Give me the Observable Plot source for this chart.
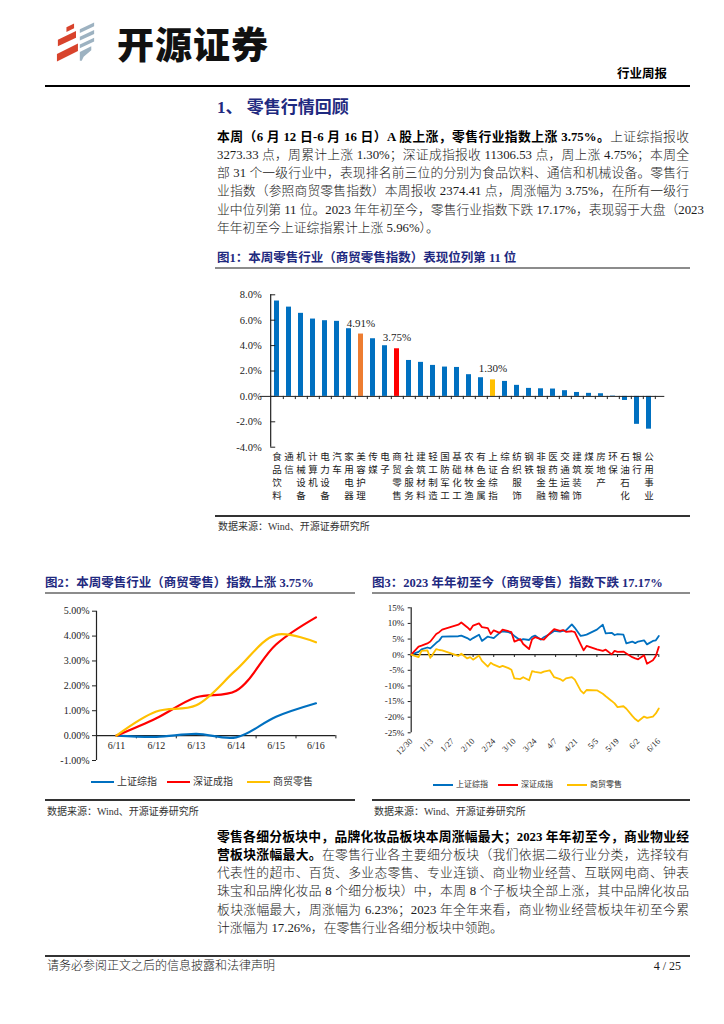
<!DOCTYPE html>
<html><head><meta charset="utf-8">
<script src="https://cdn.jsdelivr.net/npm/d3@7"></script>
<script src="https://cdn.jsdelivr.net/npm/@observablehq/plot@0.6"></script>
<style>
html,body{margin:0;padding:0;background:#fff}
body{width:724px;height:1024px;position:relative;overflow:hidden;font-family:"Liberation Serif","Noto Sans CJK SC",serif;color:#1a1a1a}
.a{position:absolute;white-space:nowrap}
.para{position:absolute;left:217px;width:472px;font-size:12.8px;font-weight:300}
.para div{text-align:justify;text-align-last:justify;white-space:nowrap}
.para div.last{text-align:left;text-align-last:left}
.para b{font-weight:700;color:#000}
.navy{color:#1f2a80;font-weight:700}
.figt{position:absolute;font-size:12.5px;line-height:16px;font-weight:700;color:#1f2a80;white-space:nowrap}
.gl{position:absolute;height:2px;background:#8c8c8c}
.bl{position:absolute;height:1.5px;background:#333}
.src{position:absolute;font-size:10px;line-height:12px;color:#333;white-space:nowrap}
.leg{position:absolute;display:flex;align-items:center;white-space:nowrap;color:#333}
.leg i{display:inline-block;height:2.5px;margin-right:3px}
svg{overflow:visible}
</style>
</head><body>

<!-- header -->
<svg class="a" style="left:55px;top:21px" width="42" height="43" viewBox="0 0 44 44">
  <g fill="#d8432c">
    <polygon points="12,6 20,2 20,7 12,11"/>
    <polygon points="3,19 22,10 22,17 3,26"/>
    <polygon points="2,34 24,23 24,31 2,42"/>
  </g>
  <g fill="#9db2c1">
    <polygon points="26,8 41,1 41,5 26,12"/>
    <polygon points="26,16 41,9 41,13 26,20"/>
    <polygon points="26,24 41,17 41,21 26,28"/>
    <polygon points="26,32 38,26 38,30 30,37 28,41 26,41"/>
  </g>
</svg>
<div class="a" style="left:117px;top:20px;font-family:'Noto Sans CJK SC';font-weight:900;font-size:37px;line-height:46px;color:#111;letter-spacing:1px">开源证券</div>
<div class="a" style="left:617px;top:65px;font-family:'Noto Sans CJK SC';font-weight:700;font-size:12.5px;line-height:16px;color:#000">行业周报</div>
<div class="a" style="left:45px;top:85px;width:645px;height:1.5px;background:#000"></div>

<div class="a navy" style="left:217px;top:98px;font-size:17px;line-height:20px;font-family:'Liberation Serif','Noto Sans CJK SC'">1、 零售行情回顾</div>

<div class="para" style="top:127.6px;line-height:18.25px">
<div><b>本周（6 月 12 日-6 月 16 日）A 股上涨，零售行业指数上涨 3.75%。</b>上证综指报收</div>
<div>3273.33 点，周累计上涨 1.30%；深证成指报收 11306.53 点，周上涨 4.75%；本周全</div>
<div>部 31 个一级行业中，表现排名前三位的分别为食品饮料、通信和机械设备。零售行</div>
<div>业指数（参照商贸零售指数）本周报收 2374.41 点，周涨幅为 3.75%，在所有一级行</div>
<div>业中位列第 11 位。2023 年年初至今，零售行业指数下跌 17.17%，表现弱于大盘（2023</div>
<div class="last">年年初至今上证综指累计上涨 5.96%）。</div>
</div>

<div class="figt" style="left:217px;top:250px">图1：本周零售行业（商贸零售指数）表现位列第 11 位</div>
<div class="gl" style="left:215px;top:267px;width:475px"></div>
<div id="c1" class="a" style="left:210px;top:285px"></div>
<div class="bl" style="left:215px;top:515px;width:475px"></div>
<div class="src" style="left:218px;top:521px">数据来源：Wind、开源证券研究所</div>

<div class="figt" style="left:45px;top:575px">图2：本周零售行业（商贸零售）指数上涨 3.75%</div>
<div class="gl" style="left:45px;top:592px;width:310px"></div>
<div class="figt" style="left:372px;top:575px">图3：2023 年年初至今（商贸零售）指数下跌 17.17%</div>
<div class="gl" style="left:372px;top:592px;width:318px"></div>

<div id="c2" class="a" style="left:40px;top:600px"></div>
<div id="c3" class="a" style="left:360px;top:598px"></div>
<div id="leg2"></div>
<div id="leg3"></div>

<div class="bl" style="left:45px;top:799px;width:310px"></div>
<div class="bl" style="left:372px;top:799px;width:318px"></div>
<div class="src" style="left:47px;top:806px">数据来源：Wind、开源证券研究所</div>
<div class="src" style="left:374px;top:806px">数据来源：Wind、开源证券研究所</div>

<div class="para" style="top:827.6px;line-height:18.25px">
<div><b>零售各细分板块中，品牌化妆品板块本周涨幅最大；2023 年年初至今，商业物业经</b></div>
<div><b>营板块涨幅最大。</b>在零售行业各主要细分板块（我们依据二级行业分类，选择较有</div>
<div>代表性的超市、百货、多业态零售、专业连锁、商业物业经营、互联网电商、钟表</div>
<div>珠宝和品牌化妆品 8 个细分板块）中，本周 8 个子板块全部上涨，其中品牌化妆品</div>
<div>板块涨幅最大，周涨幅为 6.23%；2023 年全年来看，商业物业经营板块年初至今累</div>
<div class="last">计涨幅为 17.26%，在零售行业各细分板块中领跑。</div>
</div>

<div class="a" style="left:45px;top:955px;width:645px;height:1.5px;background:#333"></div>
<div class="a" style="left:47px;top:959px;font-size:12px;line-height:14px;font-weight:300">请务必参阅正文之后的信息披露和法律声明</div>
<div class="a" style="left:640px;top:959px;width:41px;text-align:right;font-size:12px;line-height:14px">4 / 25</div>

<script>
// ---------- data ----------
const categories = ["食品饮料","通信","机械设备","计算机","电力设备","汽车","家用电器","美容护理","传媒","电子","商贸零售","社会服务","建筑材料","轻工制造","国防军工","基础化工","农林牧渔","有色金属","上证综指","综合","纺织服饰","钢铁","非银金融","医药生物","交通运输","建筑装饰","煤炭","房地产","环保","石油石化","银行","公用事业"];
const weeklyChange = [7.51,7.03,6.54,6.09,5.96,5.91,5.33,4.91,4.54,3.99,3.75,2.83,2.68,2.44,2.31,2.28,1.71,1.47,1.30,1.18,0.87,0.63,0.60,0.58,0.45,0.31,0.24,0.21,0.03,-0.32,-2.20,-2.58];
const highlighted = {"美容护理":"#ED7D31","商贸零售":"#FF0000","上证综指":"#FFC000"};
const barColor = "#0070C0";
const yTicks1 = [-4,-2,0,2,4,6,8];

const seriesNames = ["上证综指","深证成指","商贸零售"];
const seriesColors = ["#0070C0","#FF0000","#FFC000"];

const weekDates = ["6/11","6/12","6/13","6/14","6/15","6/16"];
const sseWeek = [0,-0.05,0.07,-0.07,0.76,1.30];
const szWeek = [0,0.70,1.54,1.80,3.66,4.75];
const retailWeek = [0,0.97,1.22,2.64,4.05,3.75];
const yTicks2 = [-1,0,1,2,3,4,5];

const ytdDates = ["2022-12-30","2023-01-04","2023-01-06","2023-01-10","2023-01-12","2023-01-16","2023-01-18","2023-01-20","2023-01-31","2023-02-02","2023-02-06","2023-02-08","2023-02-10","2023-02-14","2023-02-16","2023-02-20","2023-02-22","2023-02-24","2023-02-28","2023-03-02","2023-03-06","2023-03-08","2023-03-10","2023-03-14","2023-03-16","2023-03-20","2023-03-22","2023-03-24","2023-03-28","2023-03-30","2023-04-03","2023-04-06","2023-04-10","2023-04-12","2023-04-14","2023-04-18","2023-04-20","2023-04-24","2023-04-26","2023-04-28","2023-05-05","2023-05-09","2023-05-11","2023-05-15","2023-05-17","2023-05-19","2023-05-23","2023-05-25","2023-05-29","2023-05-31","2023-06-02","2023-06-06","2023-06-08","2023-06-12","2023-06-14","2023-06-16"];
const sseYtd = [0,0.9,1.7,2.3,2.0,3.8,4.5,5.8,5.9,6.1,5.3,4.7,5.3,6.4,4.4,5.8,5.5,5.3,7.0,7.5,7.2,6.8,6.0,4.6,5.0,4.7,5.7,6.1,4.8,5.6,6.6,7.6,7.4,7.6,7.8,9.7,8.6,6.0,6.2,6.4,8.0,9.6,6.8,7.0,6.3,6.6,6.4,3.6,4.2,3.7,4.2,4.6,3.3,4.4,4.6,6.0];
const szYtd = [0,2.6,2.9,3.6,4.2,6.6,7.2,8.0,9.6,10.3,8.8,7.9,9.3,10.0,8.8,8.5,6.6,7.8,7.0,8.0,7.5,7.2,4.2,5.0,3.4,1.8,4.9,5.6,5.0,4.8,6.8,8.2,7.6,7.9,7.3,7.5,7.2,3.3,1.4,2.8,1.7,1.2,1.6,0.1,1.2,0.9,1.0,0.4,-0.8,-1.2,-1.5,-0.2,-2.9,-1.8,-0.4,2.5];
const retailYtd = [0,-0.8,1.2,1.4,-1.0,1.8,1.5,1.4,-0.4,0.3,-1.2,-0.8,-1.6,-0.3,-2.0,-3.8,-2.6,-3.2,-4.0,-3.6,-4.3,-4.8,-7.6,-7.8,-7.2,-8.2,-5.3,-5.5,-5.8,-5.4,-5.0,-7.2,-7.8,-8.4,-7.6,-7.2,-8.0,-11.5,-12.4,-11.3,-11.4,-12.5,-13.3,-14.8,-15.6,-16.8,-16.5,-17.3,-19.6,-20.6,-21.3,-19.8,-20.2,-19.8,-18.8,-17.2];
const ytdTickDates = ["2022-12-30","2023-01-13","2023-01-27","2023-02-10","2023-02-24","2023-03-10","2023-03-24","2023-04-07","2023-04-21","2023-05-05","2023-05-19","2023-06-02","2023-06-16"];
const yTicks3 = [-25,-20,-15,-10,-5,0,5,10,15];

// ---------- helpers ----------
const fontFam = '"Liberation Serif","Noto Sans CJK SC",serif';
const parseDate = d3.utcParse("%Y-%m-%d");
const baseStyle = (size) => ({fontFamily: fontFam, fontSize: size, background: "transparent", overflow: "visible", color: "#222"});

// ---------- chart 1 ----------
{
  const W = 470, H = 232, ml = 49.7, mr = 15.7, mt = 9.3, mb = 70.3;
  const step = (W - ml - mr) / categories.length;
  const rows = categories.map((c, i) => ({c, v: weeklyChange[i], fill: highlighted[c] || barColor}));
  const chart = Plot.plot({
    width: W, height: H, marginLeft: ml, marginRight: mr, marginTop: mt, marginBottom: mb,
    style: baseStyle("10.5px"),
    x: {domain: categories, paddingInner: 0.6, paddingOuter: 0.3, axis: null},
    y: {domain: [-4, 8], axis: null},
    color: {type: "identity"},
    marks: [
      Plot.barY(rows, {x: "c", y: "v", fill: "fill"}),
      Plot.ruleY([0], {stroke: "#222", strokeWidth: 1}),
      Plot.ruleX(categories, {x: d => d, y1: 0, y2: -0.25, dx: step / 2, stroke: "#222"}),
      Plot.ruleX([categories[0]], {x: d => d, y1: -4, y2: 8, dx: -step / 2, stroke: "#222", strokeWidth: 1.2}),
      Plot.tickY(yTicks1, {x: () => categories[0], y: d => d, dx: -0.3 * step, stroke: "#222"}),
      Plot.text(yTicks1, {x: () => categories[0], y: d => d, text: d => d.toFixed(1) + "%", textAnchor: "end", dx: -step / 2 - 9, fontSize: 10.5, fill: "#222"}),
      Plot.text(rows.filter(d => highlighted[d.c]), {x: "c", y: "v", text: d => d.v.toFixed(2) + "%", dy: -11, fontSize: 11, fill: "#222"}),
      Plot.text(categories, {x: d => d, y: -4, text: d => [...d].join("\n"), lineAnchor: "top", dy: 4, fontSize: 9.5, lineHeight: 1.36, fontFamily: '"Noto Sans CJK SC"', fill: "#222"})
    ]
  });
  document.getElementById("c1").append(chart);
}

// ---------- chart 2 ----------
{
  const W = 320, H = 168, ml = 56, mr = 24.6, mt = 10.7, mb = 8;
  const series = [sseWeek, szWeek, retailWeek];
  const rows = seriesNames.flatMap((s, k) => weekDates.map((d, i) => ({i, d, s, v: series[k][i]})));
  const chart = Plot.plot({
    width: W, height: H, marginLeft: ml, marginRight: mr, marginTop: mt, marginBottom: mb,
    style: baseStyle("10px"),
    x: {domain: [-0.5, weekDates.length - 0.5], axis: null},
    y: {domain: [-1, 5]},
    color: {domain: seriesNames, range: seriesColors},
    marks: [
      Plot.ruleX([-0.5], {stroke: "#222", strokeWidth: 1.2}),
      Plot.ruleY([0], {stroke: "#222", strokeWidth: 1.2}),
      Plot.ruleX(weekDates.map((d, i) => i + 0.5), {x: d => d, y1: 0, y2: -0.13, stroke: "#222"}),
      Plot.axisY({ticks: yTicks2, tickFormat: d => d.toFixed(2) + "%", tickSize: 4, tickPadding: 3, fontSize: 10, label: null}),
      Plot.text(weekDates, {x: (d, i) => i, y: 0, text: d => d, dy: 10, fontSize: 10, fill: "#222"}),
      Plot.line(rows, {x: "i", y: "v", z: "s", stroke: "s", curve: "catmull-rom", strokeWidth: 2.2})
    ]
  });
  document.getElementById("c2").append(chart);
}

// ---------- chart 3 ----------
{
  const W = 330, H = 170, ml = 50.7, mr = 31.7, mt = 9.3, mb = 35.7;
  const series = [sseYtd, szYtd, retailYtd];
  const rows = seriesNames.flatMap((s, k) => ytdDates.map((d, i) => ({date: parseDate(d), s, v: series[k][i]})));
  const tickDates = ytdTickDates.map(parseDate);
  const start = parseDate(ytdDates[0]);
  const chart = Plot.plot({
    width: W, height: H, marginLeft: ml, marginRight: mr, marginTop: mt, marginBottom: mb,
    style: baseStyle("9px"),
    x: {type: "utc", domain: [start, parseDate(ytdDates[ytdDates.length - 1])]},
    y: {domain: [-25, 15]},
    color: {domain: seriesNames, range: seriesColors},
    marks: [
      Plot.ruleX([start], {stroke: "#222", strokeWidth: 1.2}),
      Plot.ruleY([0], {stroke: "#222", strokeWidth: 1.2}),
      Plot.ruleX(tickDates, {x: d => d, y1: 0, y2: -0.9, stroke: "#222"}),
      Plot.axisY({ticks: yTicks3, tickFormat: d => d + "%", tickSize: 3, tickPadding: 4, fontSize: 9, label: null}),
      Plot.axisX({ticks: tickDates, tickFormat: d3.utcFormat("%-m/%-d"), tickRotate: -45, tickSize: 0, tickPadding: 7, fontSize: 8.5, label: null}),
      Plot.line(rows, {x: "date", y: "v", z: "s", stroke: "s", strokeWidth: 1.8})
    ]
  });
  document.getElementById("c3").append(chart);
}

// ---------- legends ----------
function legend(id, top, lefts, size, sw) {
  const host = document.getElementById(id);
  seriesNames.forEach((name, k) => {
    const el = document.createElement("div");
    el.className = "leg";
    el.style.left = lefts[k] + "px";
    el.style.top = top + "px";
    el.style.fontSize = size + "px";
    el.style.lineHeight = (size + 2) + "px";
    el.innerHTML = `<i style="width:${sw}px;background:${seriesColors[k]}"></i><span>${name}</span>`;
    host.appendChild(el);
  });
}
legend("leg2", 776, [91, 167, 247], 10, 23);
legend("leg3", 780, [433, 498, 567], 8, 20);
</script>
</body></html>
